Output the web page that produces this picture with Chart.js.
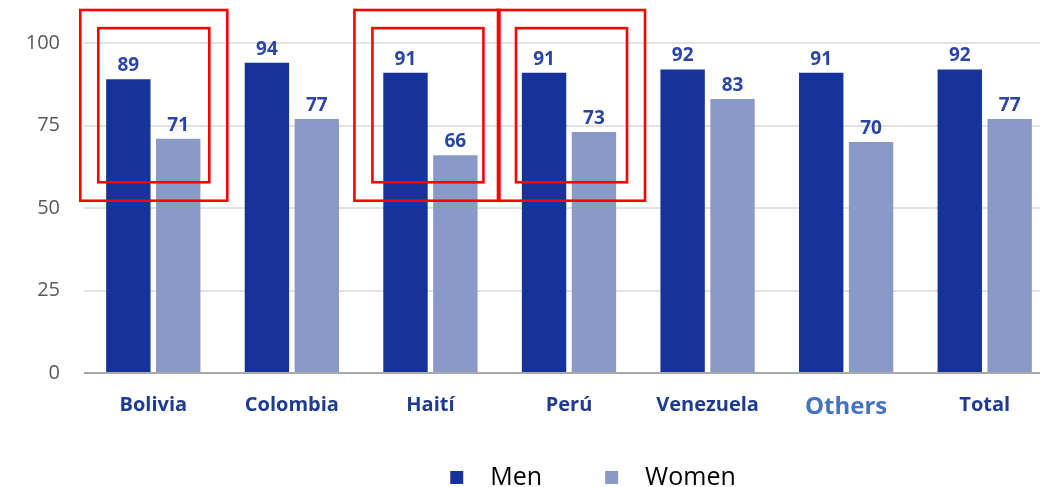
<!DOCTYPE html>
<html>
<head>
<meta charset="utf-8">
<script src="https://cdn.jsdelivr.net/npm/chart.js@4/dist/chart.umd.min.js"></script>
<style>
  html, body { margin: 0; padding: 0; background: #fff; overflow: hidden; width: 1040px; height: 487px; }
  #wrap { position: absolute; left: 0; top: 0; width: 1056px; height: 487px; }
</style>
</head>
<body>
<div id="wrap"><canvas id="c" width="1056" height="487"></canvas></div>
<script>
// Share of men and women by country of origin
const categories = ['Bolivia', 'Colombia', 'Haití', 'Perú', 'Venezuela', 'Others', 'Total'];
const menValues = [89, 94, 91, 91, 92, 91, 92];
const womenValues = [71, 77, 66, 73, 83, 70, 77];
const seriesNames = ['Men', 'Women'];
const yTicks = [0, 25, 50, 75, 100];
const highlighted = ['Bolivia', 'Haití', 'Perú'];

const FONT = "'Open Sans', 'Liberation Sans', sans-serif";
const MEN_COLOR = '#15339A';
const WOMEN_COLOR = '#8A9AC8';

// Hand-drawn frame extents around each highlighted group (px from the group centre)
const frameShape = {
  'Bolivia': { outer: [-73, 74], inner: [-55, 56] },
  'Haití':   { outer: [-76, 69], inner: [-58, 53] },
  'Perú':    { outer: [-71, 76], inner: [-53, 58] }
};

// Numbers printed above each bar
const valueLabels = {
  id: 'valueLabels',
  afterDatasetsDraw(chart) {
    const ctx = chart.ctx;
    ctx.save();
    ctx.font = 'bold 19px ' + FONT;
    ctx.fillStyle = '#2A45A6';
    ctx.textAlign = 'center';
    ctx.textBaseline = 'alphabetic';
    chart.data.datasets.forEach((ds, i) => {
      chart.getDatasetMeta(i).data.forEach((bar, j) => {
        ctx.fillText(String(ds.data[j]), bar.x, bar.y - 8);
      });
    });
    ctx.restore();
  }
};

// Red frames around the highlighted groups (outer and inner box)
const frames = {
  id: 'frames',
  afterDraw(chart) {
    const ctx = chart.ctx;
    const xs = chart.scales.x, ys = chart.scales.y;
    ctx.save();
    ctx.strokeStyle = '#FF0000';
    ctx.lineWidth = 2.6;
    highlighted.forEach(name => {
      const cx = xs.getPixelForValue(categories.indexOf(name));
      const shape = frameShape[name];
      const boxes = [
        { span: shape.outer, top: 110, bottom: 52.2 },
        { span: shape.inner, top: 104.5, bottom: 57.8 }
      ];
      boxes.forEach(b => {
        const y0 = ys.getPixelForValue(b.top);
        const y1 = ys.getPixelForValue(b.bottom);
        ctx.strokeRect(cx + b.span[0], y0, b.span[1] - b.span[0], y1 - y0);
      });
    });
    ctx.restore();
  }
};

// Legend row under the axis
const bottomLegend = {
  id: 'bottomLegend',
  afterDraw(chart) {
    const ctx = chart.ctx;
    ctx.save();
    ctx.font = '25px ' + FONT;
    const box = 13, gapText = 27, gapItem = 63;
    const items = chart.data.datasets.map(ds => ({ text: ds.label, color: ds.backgroundColor, w: ctx.measureText(ds.label).width }));
    let total = 0;
    items.forEach((it, i) => { total += box + gapText + it.w + (i < items.length - 1 ? gapItem : 0); });
    let x = 593 - total / 2;
    const baseline = 485;
    items.forEach(it => {
      ctx.fillStyle = it.color;
      ctx.fillRect(x, 471, box, box);
      x += box + gapText;
      ctx.fillStyle = '#000000';
      ctx.textAlign = 'left';
      ctx.textBaseline = 'alphabetic';
      ctx.fillText(it.text, x, baseline);
      x += it.w + gapItem;
    });
    ctx.restore();
  }
};

new Chart(document.getElementById('c'), {
  type: 'bar',
  data: {
    labels: categories,
    datasets: [
      { label: seriesNames[0], data: menValues, backgroundColor: MEN_COLOR, borderWidth: 0,
        categoryPercentage: 0.72, barPercentage: 0.89 },
      { label: seriesNames[1], data: womenValues, backgroundColor: WOMEN_COLOR, borderWidth: 0,
        categoryPercentage: 0.72, barPercentage: 0.89 }
    ]
  },
  options: {
    responsive: false,
    animation: false,
    devicePixelRatio: 1,
    layout: { padding: { top: 43, right: 2, left: 0, bottom: 0 } },
    plugins: {
      legend: { display: false },
      tooltip: { enabled: false }
    },
    scales: {
      x: {
        grid: { display: false, drawTicks: false },
        border: { display: false },
        ticks: {
          padding: 20,
          autoSkip: false,
          maxRotation: 0,
          color: c => categories[c.index] === 'Others' ? '#4472C4' : '#1F3A93',
          font: c => categories[c.index] === 'Others'
            ? { family: FONT, size: 24, weight: 'bold' }
            : { family: FONT, size: 20, weight: 'bold' }
        },
        afterFit: s => { s.height = 114; }
      },
      y: {
        min: 0,
        max: 100,
        afterBuildTicks: s => { s.ticks = yTicks.map(v => ({ value: v })); },
        grid: {
          drawTicks: false,
          color: c => (c.tick && c.tick.value === 0) ? '#A8A8A8' : '#E2E2E2',
          lineWidth: 2
        },
        border: { display: false },
        ticks: {
          padding: 24,
          color: '#595959',
          font: { family: FONT, size: 20 }
        },
        afterFit: s => { s.width = 84; }
      }
    }
  },
  plugins: [valueLabels, frames, bottomLegend]
});
</script>
</body>
</html>
